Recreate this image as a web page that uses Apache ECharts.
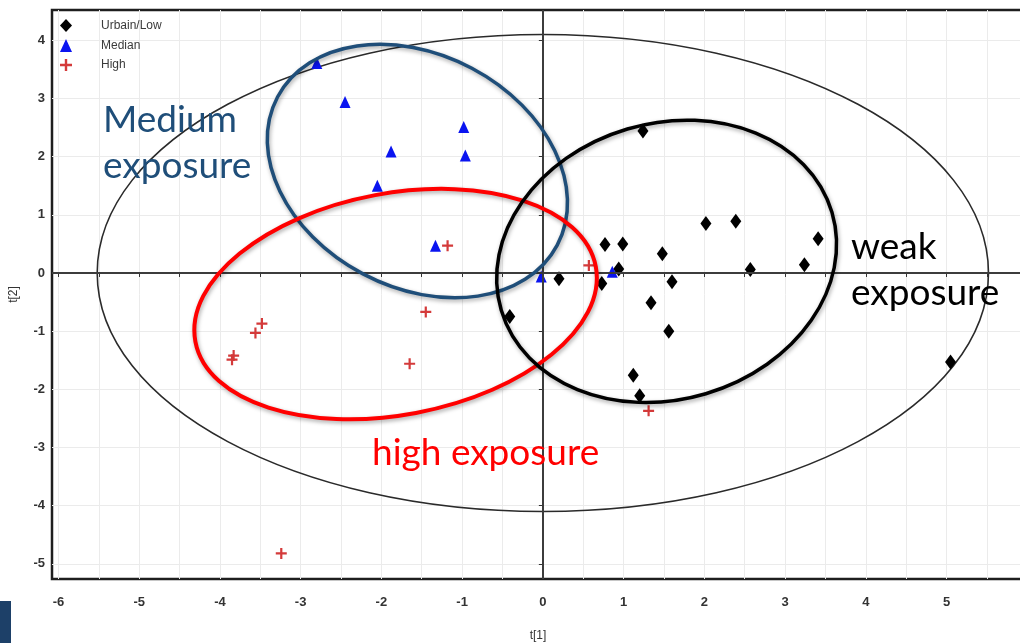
<!DOCTYPE html>
<html>
<head>
<meta charset="utf-8">
<script src="https://cdn.jsdelivr.net/npm/echarts@6.0.0/dist/echarts.min.js"></script>
<style>
html, body { margin: 0; padding: 0; background: #fff; }
#chart { width: 1020px; height: 643px; }
</style>
</head>
<body>
<div id="chart"></div>
<script>
// score values t[1] / t[2]
const lowT1 = [1.24, 2.02, 2.39, 3.41, 3.24, 2.57, 1.48, 0.77, 0.99, 0.94, 0.73, 1.60, 0.20, 1.34, 1.56, 1.12, 1.20, -0.41, 5.05];
const lowT2 = [2.44, 0.85, 0.89, 0.59, 0.14, 0.06, 0.33, 0.49, 0.50, 0.07, -0.18, -0.15, -0.10, -0.51, -1.00, -1.76, -2.11, -0.75, -1.53];
const medT1 = [-2.80, -2.45, -1.88, -2.05, -0.98, -0.96, -1.33, -0.02, 0.86];
const medT2 = [3.61, 2.94, 2.09, 1.50, 2.51, 2.02, 0.47, -0.06, 0.02];
const highT1 = [-1.18, -1.45, -1.65, -3.48, -3.56, -3.83, -3.85, 0.57, 1.31, -3.24];
const highT2 = [0.47, -0.67, -1.56, -0.87, -1.03, -1.42, -1.49, 0.13, -2.37, -4.82];

// tick labels
const xLabels = [-6, -5, -4, -3, -2, -1, 0, 1, 2, 3, 4, 5];
const xGrid = [-6, -5.5, -5, -4.5, -4, -3.5, -3, -2.5, -2, -1.5, -1, -0.5, 0, 0.5, 1, 1.5, 2, 2.5, 3, 3.5, 4, 4.5, 5, 5.5];
const yLabels = [-5, -4, -3, -2, -1, 0, 1, 2, 3, 4];

// ellipses: [centre t[1], centre t[2], half width in t[1], half height in t[2], tilt deg]
const hotellingEllipse = [0, 0, 5.52, 4.1, 0];
const mediumEllipse = [-1.554, 1.752, 1.96, 2.0, -27.9];
const highEllipse = [-1.824, -0.534, 2.523, 1.904, 10.6];
const weakEllipse = [1.533, 0.20, 2.136, 2.373, 16.5];

const crossPath = 'path://M4,0h2v10h-2z M0,4h10v2h-10z';

function zip(a, b) {
  return a.map(function (v, i) { return [v, b[i]]; });
}

function ellipseSeries(name, item, color, width, shadow) {
  return {
    name: name,
    type: 'custom',
    silent: true,
    z: shadow ? 5 : 1,
    data: [item],
    renderItem: function (params, api) {
      const c = api.coord([api.value(0), api.value(1)]);
      const rx = api.size([api.value(2), 0])[0];
      const ry = api.size([0, api.value(3)])[1];
      return {
        type: 'ellipse',
        x: c[0],
        y: c[1],
        rotation: api.value(4) * Math.PI / 180,
        shape: { cx: 0, cy: 0, rx: rx, ry: ry },
        style: {
          fill: 'none',
          stroke: color,
          lineWidth: width,
          shadowBlur: shadow ? 4 : 0,
          shadowColor: 'rgba(0,0,0,0.35)',
          shadowOffsetX: shadow ? 1 : 0,
          shadowOffsetY: shadow ? 2 : 0
        }
      };
    }
  };
}

const chart = echarts.init(document.getElementById('chart'));

chart.setOption({
  animation: false,
  backgroundColor: '#fff',
  grid: {
    show: true,
    left: 52,
    width: 972,
    top: 10,
    bottom: 64,
    outerBoundsMode: 'none',
    containLabel: false,
    borderColor: '#1e1e1e',
    borderWidth: 2.5
  },
  legend: {
    orient: 'vertical',
    left: 55,
    top: 14,
    itemGap: 7,
    itemWidth: 12,
    itemHeight: 13,
    textStyle: { fontFamily: 'Liberation Sans', fontSize: 12, color: '#3a3a3a', padding: [0, 0, 0, 24] },
    data: [
      { name: 'Urbain/Low', icon: 'diamond' },
      { name: 'Median', icon: 'triangle' },
      { name: 'High', icon: crossPath }
    ]
  },
  xAxis: {
    type: 'value',
    min: -6.08,
    max: 5.96,
    name: 't[1]',
    nameLocation: 'middle',
    nameGap: 51,
    nameTextStyle: { fontFamily: 'Liberation Sans', fontSize: 12, color: '#333' },
    axisLine: { show: false },
    axisTick: { show: true, customValues: xGrid, length: 4, lineStyle: { color: '#333' } },
    axisLabel: { customValues: xLabels, margin: 17, fontFamily: 'Liberation Sans', fontSize: 13, fontWeight: 'bold', color: '#333' },
    splitLine: { show: true, lineStyle: { color: '#ebebeb', width: 1 } }
  },
  yAxis: {
    type: 'value',
    min: -5.26,
    max: 4.52,
    name: 't[2]',
    nameLocation: 'middle',
    nameGap: 32,
    nameTextStyle: { fontFamily: 'Liberation Sans', fontSize: 12, color: '#333' },
    axisLine: { show: false },
    axisTick: { show: true, customValues: yLabels, length: 4, lineStyle: { color: '#333' } },
    axisLabel: { customValues: yLabels, margin: 7, fontFamily: 'Liberation Sans', fontSize: 13, fontWeight: 'bold', color: '#333' },
    splitLine: { show: true, lineStyle: { color: '#ebebeb', width: 1 } }
  },
  series: [
    ellipseSeries('hotelling', hotellingEllipse, '#2a2a2a', 1.6, false),
    {
      name: 'Urbain/Low',
      type: 'scatter',
      z: 3,
      symbol: 'diamond',
      symbolSize: [11, 15],
      itemStyle: { color: '#000', opacity: 1 },
      data: zip(lowT1, lowT2),
      markLine: {
        silent: true,
        symbol: 'none',
        label: { show: false },
        lineStyle: { color: '#3c3c3c', width: 2, type: 'solid' },
        data: [{ xAxis: 0 }, { yAxis: 0 }]
      }
    },
    {
      name: 'Median',
      type: 'scatter',
      z: 3,
      symbol: 'triangle',
      symbolSize: [11, 12],
      itemStyle: { color: '#0a14f0', opacity: 1 },
      data: zip(medT1, medT2)
    },
    {
      name: 'High',
      type: 'scatter',
      z: 3,
      symbol: crossPath,
      symbolSize: 11,
      itemStyle: { color: '#d43a3a', opacity: 1 },
      data: zip(highT1, highT2)
    },
    ellipseSeries('medium', mediumEllipse, '#1F4E79', 3.5, true),
    ellipseSeries('high', highEllipse, '#ff0000', 4, true),
    ellipseSeries('weak', weakEllipse, '#000000', 3.5, true)
  ],
  graphic: [
    {
      type: 'text', x: 103, y: 97, z: 10,
      style: { text: 'Medium\nexposure', font: '37px Lato', fill: '#1F4E79', lineHeight: 46, verticalAlign: 'top' }
    },
    {
      type: 'text', x: 372, y: 430, z: 10,
      style: { text: 'high exposure', font: '37px Lato', fill: '#ff0000', lineHeight: 46, verticalAlign: 'top' }
    },
    {
      type: 'text', x: 851, y: 224, z: 10,
      style: { text: 'weak\nexposure', font: '37px Lato', fill: '#000', lineHeight: 46, verticalAlign: 'top' }
    },
    {
      type: 'rect', z: 10,
      shape: { x: 0, y: 601, width: 11, height: 42 },
      style: { fill: '#1d4068' }
    }
  ]
});
</script>
</body>
</html>
